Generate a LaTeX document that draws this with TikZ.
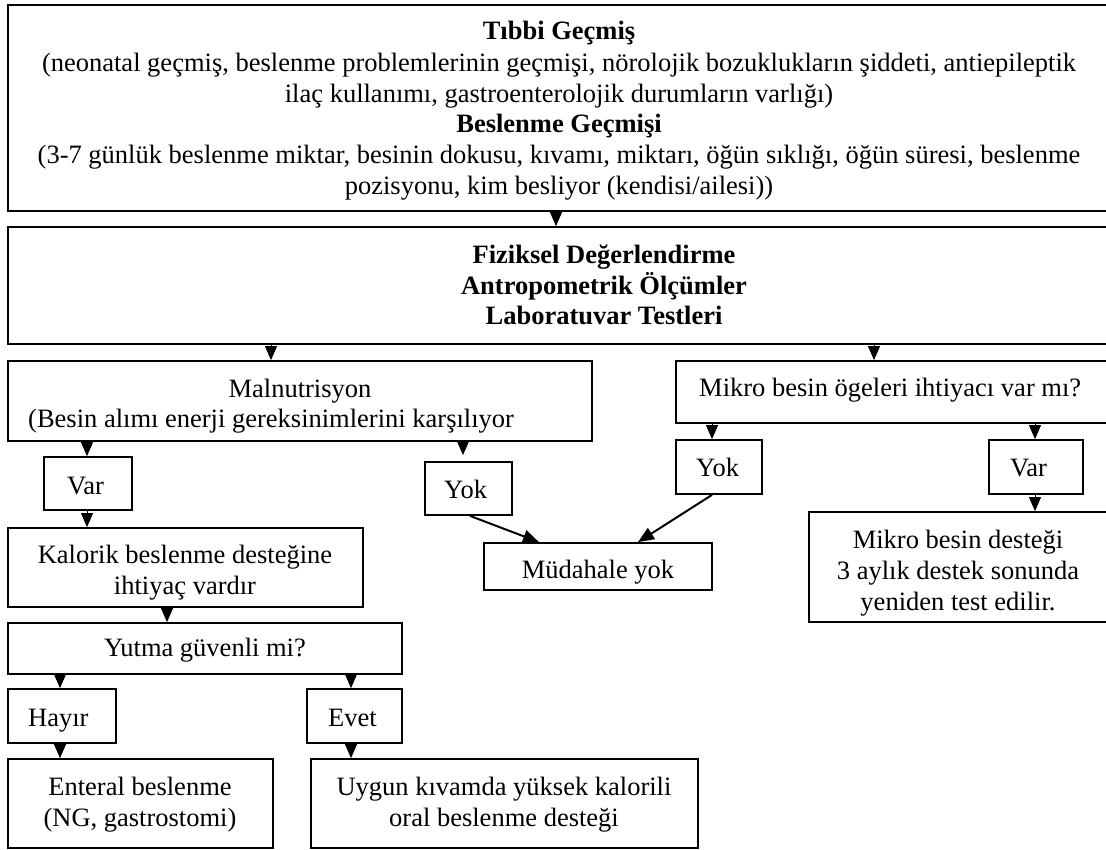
\documentclass[tikz,border=0pt]{standalone}
\usepackage{fontspec}
\setmainfont{Liberation Serif}
\usetikzlibrary{arrows.meta,fit}
\begin{document}
\begin{tikzpicture}[x=1pt,y=-1pt,
  box/.style={draw, line width=1.8pt, inner sep=0pt},
  lbl/.style={inner sep=0pt, font=\fontsize{26.5}{31}\selectfont, anchor=base},
  lblw/.style={lbl, anchor=base west},
  arr/.style={line width=1pt, -{Triangle[width=12pt,length=14pt]}},
  darr/.style={line width=2pt, -{Triangle[width=13pt,length=16pt]}}]
\useasboundingbox (0,0) rectangle (1106,850);
\clip (0,0) rectangle (1106,850);
% boxes
\node[box, fit={(8,5) (1120,211)}] (top) {};
\node[box, fit={(8,227) (1120,344)}] (fiz) {};
\node[box, fit={(8,361) (592,441)}] (mal) {};
\node[box, fit={(676,361) (1120,423)}] (mik) {};
\node[box, fit={(44,457) (132,510)}] (varL) {};
\node[box, fit={(425,462) (512,515)}] (yokL) {};
\node[box, fit={(8,528) (363,607)}] (kal) {};
\node[box, fit={(484,543) (712,590)}] (mud) {};
\node[box, fit={(676,440) (762,494)}] (yokR) {};
\node[box, fit={(989,440) (1083,494)}] (varR) {};
\node[box, fit={(809,512) (1120,622)}] (des) {};
\node[box, fit={(8,623) (402,674)}] (yut) {};
\node[box, fit={(8,689) (116,743)}] (hay) {};
\node[box, fit={(307,689) (402,743)}] (evt) {};
\node[box, fit={(8,759) (273,848)}] (ent) {};
\node[box, fit={(311,759) (698,848)}] (uyg) {};
% texts
\node[lbl] (t1a) at (559,40) {\textbf{Tıbbi Geçmiş}};
\node[lbl] (t1b) at (559,72) {(neonatal geçmiş, beslenme problemlerinin geçmişi, nörolojik bozuklukların şiddeti, antiepileptik};
\node[lbl] (t1c) at (559,103) {ilaç kullanımı, gastroenterolojik durumların varlığı)};
\node[lbl] (t1d) at (559,133) {\textbf{Beslenme Geçmişi}};
\node[lbl] (t1e) at (559,164) {(3-7 günlük beslenme miktar, besinin dokusu, kıvamı, miktarı, öğün sıklığı, öğün süresi, beslenme};
\node[lbl] (t1f) at (559,195) {pozisyonu, kim besliyor (kendisi/ailesi))};
\node[lbl] (t2a) at (604,264) {\textbf{Fiziksel Değerlendirme}};
\node[lbl] (t2b) at (604,295) {\textbf{Antropometrik Ölçümler}};
\node[lbl] (t2c) at (604,325) {\textbf{Laboratuvar Testleri}};
\node[lbl] (t3a) at (300,397) {Malnutrisyon};
\node[lblw] (t3b) at (28,427) {(Besin alımı enerji gereksinimlerini karşılıyor};
\node[lblw] (t4) at (699,396) {Mikro besin ögeleri ihtiyacı var mı?};
\node[lblw] (t5) at (67,494) {Var};
\node[lblw] (t6) at (444,498) {Yok};
\node[lblw] (t7) at (696,476) {Yok};
\node[lblw] (t8) at (1010,476) {Var};
\node[lbl] (t9a) at (185,563) {Kalorik beslenme desteğine};
\node[lbl] (t9b) at (185,594) {ihtiyaç vardır};
\node[lbl] (t10) at (598,578) {Müdahale yok};
\node[lbl] (t11a) at (958,548) {Mikro besin desteği};
\node[lbl] (t11b) at (958,579) {3 aylık destek sonunda};
\node[lbl] (t11c) at (958,610) {yeniden test edilir.};
\node[lbl] (t12) at (205,656) {Yutma güvenli mi?};
\node[lblw] (t13) at (28,726) {Hayır};
\node[lblw] (t14) at (328,726) {Evet};
\node[lbl] (t15a) at (140,795) {Enteral beslenme};
\node[lbl] (t15b) at (140,826) {(NG, gastrostomi)};
\node[lbl] (t16a) at (504,795) {Uygun kıvamda yüksek kalorili};
\node[lbl] (t16b) at (504,826) {oral beslenme desteği};
% arrow columns
\coordinate (xa) at (556,0);
\coordinate (xb) at (271,0);
\coordinate (xc) at (874,0);
\coordinate (xd) at (87,0);
\coordinate (xe) at (463,0);
\coordinate (xf) at (167,0);
\coordinate (xg) at (60,0);
\coordinate (xh) at (351,0);
\coordinate (xi) at (712,0);
\coordinate (xj) at (1035,0);
\coordinate (xk) at (470,0);
\coordinate (xl) at (539,0);
\coordinate (xm) at (638,0);
% connectors
\draw[arr] (xa |- top.south) -- (xa |- fiz.north);
\draw[arr] (xb |- fiz.south) -- (xb |- mal.north);
\draw[arr] (xc |- fiz.south) -- (xc |- mik.north);
\draw[arr] (xd |- mal.south) -- (xd |- varL.north);
\draw[arr, shorten >=6pt] (xe |- mal.south) -- (xe |- yokL.north);
\draw[arr] (xd |- varL.south) -- (xd |- kal.north);
\draw[arr] (xf |- kal.south) -- (xf |- yut.north);
\draw[arr] (xg |- yut.south) -- (xg |- hay.north);
\draw[arr] (xh |- yut.south) -- (xh |- evt.north);
\draw[arr] (xg |- hay.south) -- (xg |- ent.north);
\draw[arr] (xh |- evt.south) -- (xh |- uyg.north);
\draw[arr] (xi |- mik.south) -- (xi |- yokR.north);
\draw[arr] (xj |- mik.south) -- (xj |- varR.north);
\draw[arr] (xj |- varR.south) -- (xj |- des.north);
\draw[darr] (xk |- yokL.south) -- (xl |- mud.north);
\draw[darr] (xi |- yokR.south) -- (xm |- mud.north);
\end{tikzpicture}
\end{document}
